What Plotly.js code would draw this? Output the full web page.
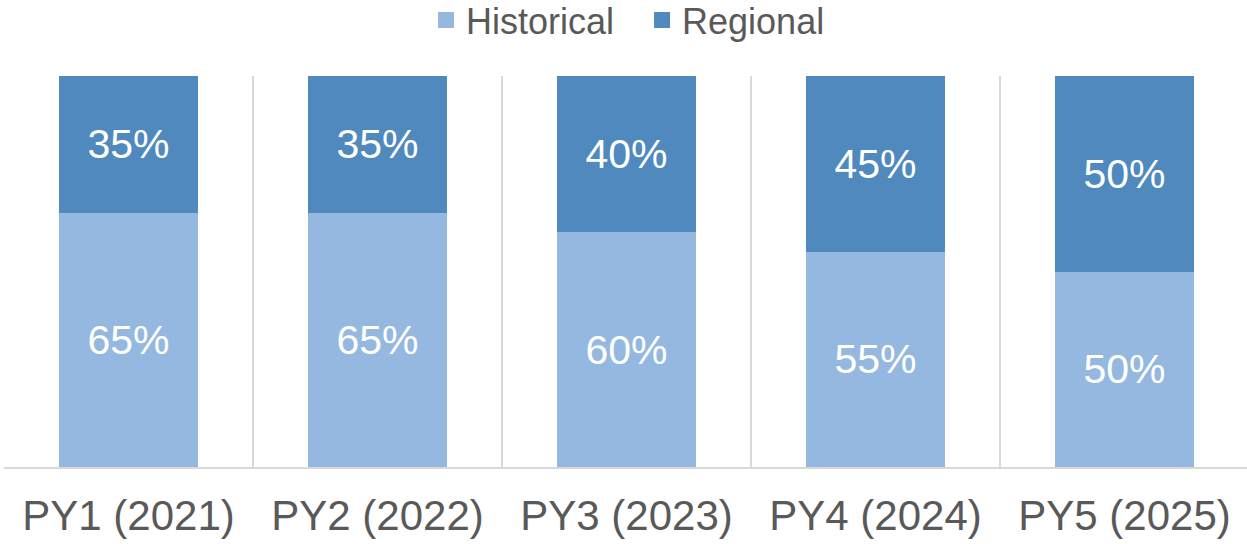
<!DOCTYPE html>
<html>
<head>
<meta charset="utf-8">
<script src="https://cdn.plot.ly/plotly-3.0.1.min.js"></script>
<style>html,body{margin:0;padding:0;background:#fff;overflow:hidden;}#chart{width:1249px;height:544px;}</style>
</head>
<body>
<div id="chart"></div>
<script>
const categories = ["PY1 (2021)", "PY2 (2022)", "PY3 (2023)", "PY4 (2024)", "PY5 (2025)"];
const historical = [65, 65, 60, 55, 50];
const regional = [35, 35, 40, 45, 50];
const seriesNames = ["Historical", "Regional"];
const colors = ["#95B8E0", "#4F89BD"];

const pct = v => v.map(x => x + "%");
const font = "Liberation Sans, Arial, sans-serif";

const traces = [
  {type: "bar", name: seriesNames[0], x: categories, y: historical, marker: {color: colors[0]},
   text: pct(historical), textposition: "inside", insidetextanchor: "middle",
   textfont: {color: "#ffffff", size: 41, family: font}, hoverinfo: "skip", showlegend: false},
  {type: "bar", name: seriesNames[1], x: categories, y: regional, marker: {color: colors[1]},
   text: pct(regional), textposition: "inside", insidetextanchor: "middle",
   textfont: {color: "#ffffff", size: 41, family: font}, hoverinfo: "skip", showlegend: false},
  // legend-only entries (point lies below the visible y range, so it is clipped away)
  {type: "scatter", mode: "markers", name: seriesNames[0], x: [categories[0]], y: [-50],
   marker: {symbol: "square", size: 19, color: colors[0]}, showlegend: true, hoverinfo: "skip", cliponaxis: true},
  {type: "scatter", mode: "markers", name: seriesNames[1], x: [categories[0]], y: [-50],
   marker: {symbol: "square", size: 19, color: colors[1]}, showlegend: true, hoverinfo: "skip", cliponaxis: true}
];

const layout = {
  width: 1249, height: 544,
  margin: {l: 4, r: 0, t: 76, b: 77, pad: 0, autoexpand: false},
  barmode: "stack",
  bargap: 0.442,
  paper_bgcolor: "#ffffff", plot_bgcolor: "#ffffff",
  font: {family: font, color: "#595959"},
  showlegend: true,
  legend: {orientation: "h", x: 0.339, xanchor: "left", y: 1.143, yref: "paper", yanchor: "middle",
           font: {size: 36, color: "#595959", family: font}, itemwidth: 30, tracegroupgap: 0,
           entrywidth: 171, entrywidthmode: "pixels",
           traceorder: "normal", bgcolor: "rgba(0,0,0,0)"},
  xaxis: {type: "category", tickson: "boundaries", showgrid: true, gridcolor: "#d9d9d9", gridwidth: 2,
          showline: true, linecolor: "#d9d9d9", linewidth: 2, ticks: "", range: [-0.5, 4.5],
          ticklabelstandoff: 11,
          tickfont: {size: 42, color: "#595959", family: font}, zeroline: false, fixedrange: true},
  yaxis: {range: [0, 100], showgrid: false, showticklabels: false, zeroline: false, showline: false,
          ticks: "", fixedrange: true}
};

Plotly.newPlot("chart", traces, layout, {staticPlot: true, displayModeBar: false});
</script>
</body>
</html>
